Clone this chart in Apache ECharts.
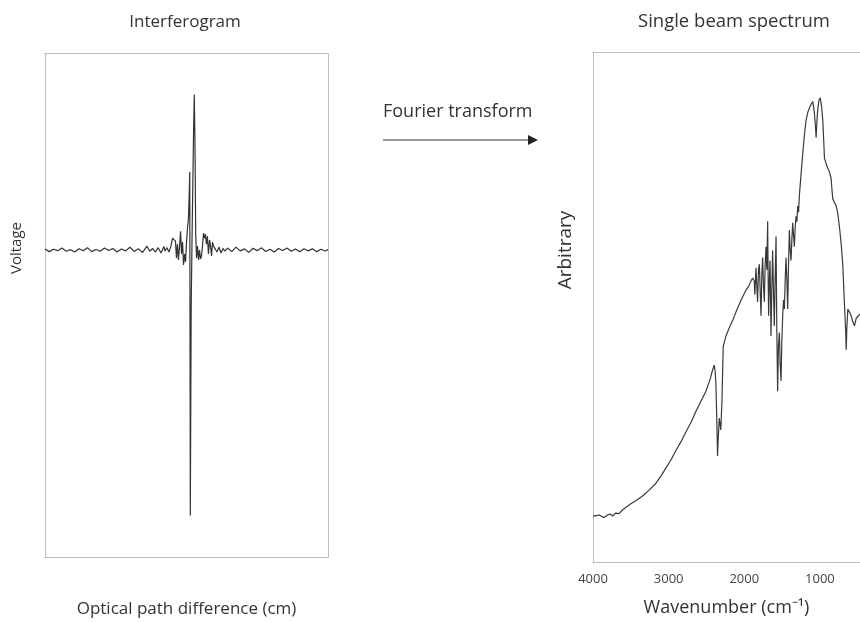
<!DOCTYPE html>
<html><head><meta charset="utf-8">
<script src="https://cdn.jsdelivr.net/npm/echarts@6/dist/echarts.min.js"></script>
<style>html,body{margin:0;padding:0;background:#fff}#c{width:860px;height:623px}</style>
</head><body><div id="c"></div>
<script>
// Interferogram: optical path difference (arbitrary units) vs voltage
const opd = [
  -1.00,-0.97,-0.94,-0.91,-0.88,-0.85,-0.82,-0.79,-0.76,-0.73,-0.70,-0.67,-0.64,-0.61,-0.58,-0.55,-0.52,-0.49,-0.46,-0.43,
  -0.40,-0.37,-0.34,-0.31,-0.28,-0.26,-0.24,-0.22,-0.20,-0.18,-0.16,
  -0.152,-0.138,-0.124,-0.110,-0.099,-0.088,-0.078,-0.071,-0.064,-0.057,-0.049,-0.042,-0.035,-0.028,-0.021,-0.014,-0.007,
  0.000,0.007,0.014,0.019,0.023,0.027,0.033,0.039,0.044,0.050,0.055,0.060,0.065,0.071,0.078,0.085,0.092,0.099,0.106,
  0.113,0.120,0.127,0.134,0.141,0.148,0.155,0.163,0.170,0.177,0.184,0.191,0.201,0.216,0.230,0.244,0.258,0.272,
  0.29,0.32,0.35,0.38,0.41,0.44,0.47,0.50,0.53,0.56,0.59,0.62,0.65,0.68,0.71,0.74,0.77,0.80,0.83,0.86,0.89,0.92,0.95,0.98,1.00
];
const voltage = [
  0.005,-0.008,0.004,-0.003,0.010,-0.006,0.002,-0.010,0.007,-0.004,0.012,-0.008,0.003,-0.006,0.010,-0.002,0.008,-0.010,0.005,-0.004,
  0.014,-0.007,0.006,-0.012,0.020,-0.006,0.008,-0.010,0.012,-0.015,0.018,
  -0.005,0.012,-0.010,0.020,0.060,0.070,0.045,-0.040,0.030,-0.050,0.020,0.095,-0.020,0.040,-0.075,-0.020,-0.060,
  0.040,0.110,0.160,0.280,0.395,-1.340,-0.300,0.050,0.300,0.600,0.785,0.530,0.080,-0.040,0.020,-0.050,0.000,-0.045,-0.030,
  0.020,0.085,0.060,0.080,0.030,0.070,-0.020,0.050,0.020,-0.030,0.040,0.020,0.030,-0.010,0.015,-0.015,0.008,-0.006,
  0.010,-0.008,0.015,-0.004,0.006,-0.012,0.009,-0.003,0.011,-0.007,0.004,-0.010,0.008,-0.002,0.010,-0.006,0.005,-0.009,0.007,-0.004,0.006,-0.008,0.004,-0.005,0.002
];

// Single beam spectrum: wavenumber (cm-1) vs arbitrary intensity
const wavenumber = [
  4000,3920,3854,3810,3775,3740,3700,3656,3610,3567,3500,3434,3350,3258,3170,3100,3037,2970,2905,2840,
  2772,2700,2640,2570,2507,2450,2420,2397,2385,2375,2360,2354,2345,2331,2310,2295,2278,2242,2200,2150,
  2110,2040,1978,1940,1911,1890,1868,1860,1845,1835,1824,1812,1801,1790,1779,1768,1757,1746,1735,1724,
  1713,1702,1691,1684,1678,1668,1660,1652,1647,1636,1625,1614,1603,1592,1580,1570,1559,1548,1536,1525,
  1514,1503,1492,1481,1470,1459,1448,1437,1426,1415,1404,1393,1382,1371,1360,1349,1338,1327,1316,1305,
  1293,1282,1272,1250,1228,1205,1183,1160,1139,1115,1095,1085,1073,1060,1050,1040,1029,1012,996,980,
  962,950,940,920,896,875,852,840,830,810,785,764,740,719,698,675,660,652,645,631,
  610,587,565,543,520,499,470,440,400
];
const intensity = [
  9.0,9.2,8.7,9.2,9.4,9.0,9.6,9.5,10.2,10.7,11.4,12.0,12.9,14.1,15.4,16.9,18.4,20.0,21.8,23.5,
  25.5,27.5,29.5,31.6,33.5,35.9,37.6,38.6,37.3,34.9,25.9,20.8,23.9,28.2,25.9,31.6,42.3,44.3,45.9,47.5,
  49.0,51.4,53.3,54.1,55.1,55.7,55.1,52.4,57.7,54.3,51.0,57.3,58.4,53.3,48.3,56.3,59.7,54.3,51.0,58.2,
  61.8,57.3,66.8,55.3,48.3,55.3,59.1,51.4,44.3,53.3,61.1,53.3,46.3,55.3,63.8,45.5,33.5,42.5,45.0,38.6,
  35.5,43.5,48.3,51.4,49.6,55.3,59.7,55.3,49.6,58.2,65.1,61.2,59.1,63.1,66.5,64.1,61.8,65.5,67.8,66.7,
  69.8,68.6,71.8,75.9,79.9,83.7,86.6,88.2,89.0,89.8,90.3,89.4,88.0,85.7,83.2,86.3,88.6,90.6,91.0,89.6,
  86.6,82.7,79.2,78.2,77.2,76.5,75.2,72.9,71.2,70.6,69.8,68.4,65.5,62.4,58.4,50.4,45.5,41.6,45.5,49.6,
  49.0,48.3,47.1,46.3,47.8,47.6,48.6,47.8,48.2
];
const wnTickLabels = [4000, 3000, 2000, 1000];

const FONT = '"Open Sans", sans-serif';
const frame = { show: true, onZero: false, lineStyle: { color: '#b0b0b0', type: 'dotted', width: 1 } };
const hidden = { axisTick: { show: false }, axisLabel: { show: false }, splitLine: { show: false } };

const chart = echarts.init(document.getElementById('c'), null, { renderer: 'canvas' });
chart.setOption({
  animation: false,
  backgroundColor: '#fff',
  grid: [
    { left: 45, right: 532, top: 53, bottom: 61 },
    { left: 593, right: 0, top: 52, bottom: 61 }
  ],
  xAxis: [
    Object.assign({ gridIndex: 0, type: 'value', min: -1, max: 1, position: 'bottom', axisLine: frame,
      name: 'Optical path difference (cm)', nameLocation: 'middle', nameGap: 44,
      nameTextStyle: { fontFamily: FONT, fontSize: 17, color: '#333' } }, hidden),
    Object.assign({ gridIndex: 0, type: 'value', min: -1, max: 1, position: 'top', axisLine: frame }, hidden),
    { gridIndex: 1, type: 'value', min: 470, max: 4000, inverse: true, position: 'bottom', axisLine: frame,
      axisTick: { show: false }, splitLine: { show: false },
      axisLabel: { customValues: wnTickLabels, formatter: v => String(v), fontFamily: FONT, fontSize: 13, color: '#444', margin: 11 },
      name: 'Wavenumber (cm\u207B\u00B9)', nameLocation: 'middle', nameGap: 37,
      nameTextStyle: { fontFamily: FONT, fontSize: 18, color: '#333' } },
    Object.assign({ gridIndex: 1, type: 'value', min: 470, max: 4000, inverse: true, position: 'top', axisLine: frame }, hidden)
  ],
  yAxis: [
    Object.assign({ gridIndex: 0, type: 'value', min: -1.55, max: 0.995, position: 'left', axisLine: frame }, hidden),
    Object.assign({ gridIndex: 0, type: 'value', min: -1.55, max: 0.995, position: 'right', axisLine: frame }, hidden),
    Object.assign({ gridIndex: 1, type: 'value', min: 0, max: 100, position: 'left', axisLine: frame }, hidden)
  ],
  series: [
    { type: 'line', xAxisIndex: 0, yAxisIndex: 0, showSymbol: false, symbol: 'none',
      lineStyle: { color: '#333', width: 1.2 }, data: opd.map((x, i) => [x, voltage[i]]) },
    { type: 'line', xAxisIndex: 2, yAxisIndex: 2, showSymbol: false, symbol: 'none', clip: true,
      lineStyle: { color: '#3a3a3a', width: 1.2 }, data: wavenumber.map((x, i) => [x, intensity[i]]) }
  ],
  graphic: [
    { type: 'text', x: 185, y: 22, style: { text: 'Interferogram', align: 'center', verticalAlign: 'middle', font: '17px ' + FONT, fill: '#333' } },
    { type: 'text', x: 734, y: 22, style: { text: 'Single beam spectrum', align: 'center', verticalAlign: 'middle', font: '18.5px ' + FONT, fill: '#333' } },
    { type: 'text', x: 383, y: 112, style: { text: 'Fourier transform', align: 'left', verticalAlign: 'middle', font: '18px ' + FONT, fill: '#333' } },
    { type: 'text', x: 17, y: 248, rotation: Math.PI / 2, style: { text: 'Voltage', align: 'center', verticalAlign: 'middle', font: '15px ' + FONT, fill: '#333' } },
    { type: 'text', x: 566, y: 250, rotation: Math.PI / 2, style: { text: 'Arbitrary', align: 'center', verticalAlign: 'middle', font: '19px ' + FONT, fill: '#333' } },
    { type: 'line', shape: { x1: 383, y1: 140, x2: 530, y2: 140 }, style: { stroke: '#333', lineWidth: 1.2 } },
    { type: 'polygon', shape: { points: [[528, 135], [538, 140], [528, 145]] }, style: { fill: '#222' } }
  ]
});
</script>
</body></html>
